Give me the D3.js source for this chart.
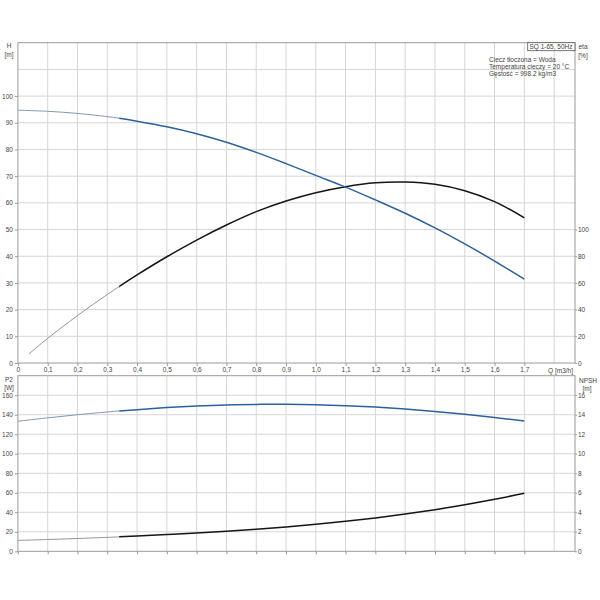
<!DOCTYPE html>
<html>
<head>
<meta charset="utf-8">
<script src="https://cdn.jsdelivr.net/npm/d3@7"></script>
<style>
    body { margin: 0; background: #fff; }
    svg text { font-family: "Liberation Sans", Arial, sans-serif; fill: #444; }
</style>
</head>
<body>
<svg id="chart" width="600" height="600"></svg>
<script>
// flow points shared by H, P2 and NPSH
var flowQ = [0, 0.1, 0.2, 0.3, 0.34, 0.4, 0.5, 0.6, 0.7, 0.8, 0.9, 1.0, 1.1, 1.2, 1.3, 1.4, 1.5, 1.6, 1.7]
var headH = [94.7, 94.3, 93.5, 92.3, 91.7, 90.6, 88.5, 85.9, 82.7, 78.9, 74.7, 70.3, 65.9, 61.1, 56.1, 50.6, 44.6, 38.2, 31.4]
var powerP2 = [133.3, 136.8, 140.0, 142.8, 143.9, 145.2, 147.3, 148.9, 150.0, 150.6, 150.7, 150.3, 149.3, 147.8, 145.8, 143.3, 140.4, 137.1, 133.5]
var npshM = [1.12, 1.21, 1.31, 1.43, 1.48, 1.58, 1.72, 1.87, 2.05, 2.26, 2.5, 2.77, 3.07, 3.42, 3.82, 4.27, 4.77, 5.33, 5.95]

var etaQ = [0.037, 0.1, 0.2, 0.3, 0.34, 0.4, 0.5, 0.6, 0.7, 0.8, 0.9, 1.0, 1.1, 1.2, 1.3, 1.4, 1.5, 1.6, 1.7]
var etaPct = [6.8, 18.5, 35.5, 51.3, 57.3, 66.0, 79.6, 92.1, 103.4, 113.4, 121.4, 127.6, 132.1, 135.0, 135.6, 133.9, 129.1, 120.9, 108.8]

// below this flow the curves are drawn thin
var thinUntilQ = 0.34

var qTicks = [0, 0.1, 0.2, 0.3, 0.4, 0.5, 0.6, 0.7, 0.8, 0.9, 1.0, 1.1, 1.2, 1.3, 1.4, 1.5, 1.6, 1.7]
var qTickLabels = ["0", "0,1", "0,2", "0,3", "0,4", "0,5", "0,6", "0,7", "0,8", "0,9", "1,0", "1,1", "1,2", "1,3", "1,4", "1,5", "1,6", "1,7"]
var hTicks = [0, 10, 20, 30, 40, 50, 60, 70, 80, 90, 100]
var etaTicks = [0, 20, 40, 60, 80, 100]
var p2Ticks = [0, 20, 40, 60, 80, 100, 120, 140, 160]
var npshTicks = [0, 2, 4, 6, 8, 10, 12, 14, 16]

var infoLines = ["Ciecz tłoczona = Woda", "Temperatura cieczy = 20 °C", "Gęstość = 998.2 kg/m3"]

var svg = d3.select("#chart")
var left = 17.9, right = 575
var top1 = 42.7, bottom1 = 363
var top2 = 375.7, bottom2 = 551.3

var blue = "#2d6299", blueThin = "#8497ab"
var black = "#151515", blackThin = "#959595"
var gridColor = "#d6d6d6", frameColor = "#9a9a9a"

var x = d3.scaleLinear().domain([0, 1.87]).range([left, right])
var yH = d3.scaleLinear().domain([0, 120]).range([bottom1, top1])
var yEta = d3.scaleLinear().domain([0, 240]).range([bottom1, top1])
var yP = d3.scaleLinear().domain([0, 180]).range([bottom2, top2])
var yN = d3.scaleLinear().domain([0, 18]).range([bottom2, top2])

function grid(yScale, yValues, top, bottom) {
    var g = svg.append("g")
    d3.range(0.1, 1.85, 0.1).forEach(function (q) {
        g.append("line")
            .attr("x1", x(q)).attr("x2", x(q))
            .attr("y1", top).attr("y2", bottom)
            .attr("stroke", gridColor)
    })
    yValues.forEach(function (v) {
        g.append("line")
            .attr("x1", left).attr("x2", right)
            .attr("y1", yScale(v)).attr("y2", yScale(v))
            .attr("stroke", gridColor)
    })
}

grid(yH, d3.range(10, 120, 10), top1, bottom1)
grid(yP, d3.range(20, 180, 20), top2, bottom2)

function styleAxis(g) {
    g.select(".domain").remove()
    g.selectAll("line").attr("stroke", frameColor)
    g.selectAll("text").attr("font-size", "6.5px").attr("fill", "#444")
}

// top plot axes
svg.append("g")
    .attr("transform", "translate(" + left + ",0)")
    .call(d3.axisLeft(yH).tickValues(hTicks).tickSize(3).tickPadding(2))
    .call(styleAxis)

svg.append("g")
    .attr("transform", "translate(" + right + ",0)")
    .call(d3.axisRight(yEta).tickValues(etaTicks).tickSize(2).tickPadding(1))
    .call(styleAxis)

svg.append("g")
    .attr("transform", "translate(0," + bottom1 + ")")
    .call(d3.axisBottom(x).tickValues(qTicks).tickSize(3).tickPadding(1)
        .tickFormat(function (d, i) { return qTickLabels[i]; }))
    .call(styleAxis)

// bottom plot axes
svg.append("g")
    .attr("transform", "translate(" + left + ",0)")
    .call(d3.axisLeft(yP).tickValues(p2Ticks).tickSize(3).tickPadding(2))
    .call(styleAxis)

svg.append("g")
    .attr("transform", "translate(" + right + ",0)")
    .call(d3.axisRight(yN).tickValues(npshTicks).tickSize(2).tickPadding(1))
    .call(styleAxis)

svg.append("g")
    .attr("transform", "translate(0," + bottom2 + ")")
    .call(d3.axisBottom(x).tickValues(qTicks).tickSize(3).tickFormat(""))
    .call(styleAxis)

// frames
svg.append("rect").attr("x", left).attr("y", top1)
    .attr("width", right - left).attr("height", bottom1 - top1)
    .attr("fill", "none").attr("stroke", frameColor)
svg.append("rect").attr("x", left).attr("y", top2)
    .attr("width", right - left).attr("height", bottom2 - top2)
    .attr("fill", "none").attr("stroke", frameColor)

// axis titles
function label(txt, px, py, anchor) {
    svg.append("text").attr("x", px).attr("y", py)
        .attr("text-anchor", anchor || "middle")
        .attr("font-size", "6.5px")
        .text(txt)
}
label("H", 9, 48)
label("[m]", 9, 57)
label("eta", 583, 49)
label("[%]", 583, 58)
label("P2", 9, 382)
label("[W]", 9, 390)
label("NPSH", 588, 383)
label("[m]", 587, 391)
label("Q [m3/h]", 573, 372.5, "end")

// curve info box
svg.append("rect").attr("x", 527.7).attr("y", top1)
    .attr("width", right - 527.7).attr("height", 8)
    .attr("fill", "#fff").attr("stroke", "#555").attr("stroke-width", 0.8)
label("SQ 1-65, 50Hz", 529.5, 49.2, "start")
infoLines.forEach(function (t, i) {
    label(t, 489, 61.8 + i * 7, "start")
})

// clip areas for the thin and thick parts of every curve
var defs = svg.append("defs")
defs.append("clipPath").attr("id", "clip-thin")
    .append("rect").attr("x", 0).attr("y", 0)
    .attr("width", x(thinUntilQ)).attr("height", 600)
defs.append("clipPath").attr("id", "clip-thick")
    .append("rect").attr("x", x(thinUntilQ)).attr("y", 0)
    .attr("width", 600 - x(thinUntilQ)).attr("height", 600)

function drawCurve(qs, vals, yScale, thin, thick) {
    var line = d3.line()
        .x(function (d) { return x(d[0]); })
        .y(function (d) { return yScale(d[1]); })
        .curve(d3.curveCatmullRom.alpha(0.5))
    var pts = qs.map(function (q, i) { return [q, vals[i]]; })
    svg.append("path")
        .attr("d", line(pts))
        .attr("clip-path", "url(#clip-thin)")
        .attr("fill", "none").attr("stroke", thin).attr("stroke-width", 1)
    svg.append("path")
        .attr("d", line(pts))
        .attr("clip-path", "url(#clip-thick)")
        .attr("fill", "none").attr("stroke", thick).attr("stroke-width", 1.5)
}

drawCurve(etaQ, etaPct, yEta, blackThin, black)
drawCurve(flowQ, headH, yH, blueThin, blue)
drawCurve(flowQ, powerP2, yP, blueThin, blue)
drawCurve(flowQ, npshM, yN, blackThin, black)
</script>
</body>
</html>
